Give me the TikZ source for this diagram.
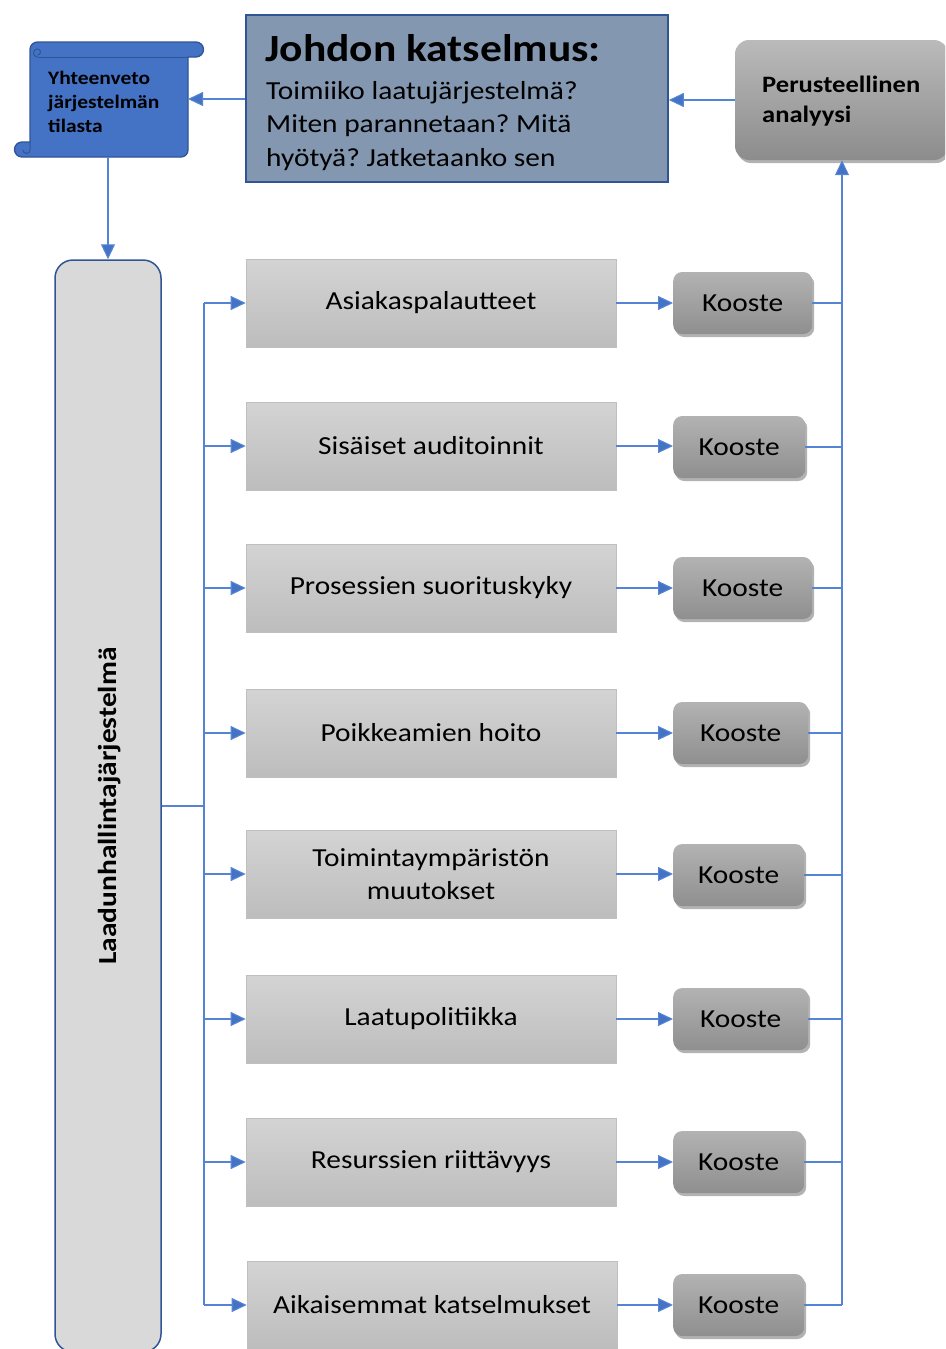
\documentclass[tikz,border=0pt]{standalone}
\usepackage{fontspec}
\setmainfont{Carlito}[FakeStretch=1.13]
\usetikzlibrary{arrows.meta,shadows}
\frenchspacing

\definecolor{link}{HTML}{5584D4}
\definecolor{tipblue}{HTML}{4472C4}
\definecolor{scrollblue}{HTML}{4472C4}
\definecolor{navy}{HTML}{2F5597}
\definecolor{slate}{HTML}{8497B0}
\definecolor{panel}{HTML}{D9D9D9}

\tikzset{
  conn/.style={draw=link, line width=1.1pt},
  arr/.style={conn, -{Triangle[length=15pt,width=14pt,fill=tipblue]}},
  topicbox/.style={rectangle, draw=black!25, line width=0.6pt,
    top color=black!17, bottom color=black!26,
    minimum width=370pt, minimum height=88pt, inner sep=0pt,
    align=center, font=\fontsize{26}{33}\selectfont},
  sumbox/.style={rectangle, rounded corners=9pt, draw=none,
    top color=black!30, bottom color=black!44,
    drop shadow={shadow xshift=2pt, shadow yshift=-3pt, opacity=0.3, fill=black},
    minimum height=62pt, inner sep=0pt, anchor=west,
    font=\fontsize{26}{30}\selectfont},
  linetext/.style={anchor=base west, inner sep=0pt},
  scrolltext/.style={linetext, font=\bfseries\fontsize{19}{22}\selectfont},
  bodytext/.style={linetext, font=\fontsize{26}{30}\selectfont},
  headtext/.style={linetext, font=\bfseries\fontsize{23.5}{28}\selectfont},
}

\begin{document}
\begin{tikzpicture}[x=1pt, y=-1pt]
\useasboundingbox (0,0) rectangle (945,1349);
\clip (0,0) rectangle (945,1349);

% summary scroll
\filldraw[fill=scrollblue, draw=navy, line width=1.3pt, line join=round]
  (37.5,42) -- (196,42) arc[start angle=-90, end angle=90, radius=7.5]
  -- (188,57) -- (188,150) arc[start angle=0, end angle=90, radius=7]
  -- (22,157) arc[start angle=90, end angle=270, radius=7.5]
  -- (30,142) -- (30,49.5) arc[start angle=180, end angle=270, radius=7.5] -- cycle;
\draw[navy, line width=1pt] (37.5,57) -- (188,57);
\draw[navy, line width=1pt] (37.5,57) arc[start angle=90, end angle=270, radius=4] arc[start angle=-90, end angle=90, radius=3];
\draw[navy, line width=1pt] (30,142) -- (30,150) arc[start angle=0, end angle=180, radius=3.5];
\node[scrolltext] (s1) at (48,84) {Yhteenveto};
\node[scrolltext] (s2) at (48,108) {järjestelmän};
\node[scrolltext] (s3) at (48,132) {tilasta};
\coordinate (scE) at (188,99);
\coordinate (scS) at (108,157);

% management review box
\node[rectangle, draw=navy, fill=slate, line width=1.6pt, minimum width=422pt, minimum height=167pt, inner sep=0pt] (jk) at (457,98.5) {};
\node[linetext, font=\bfseries\fontsize{38.5}{42}\selectfont] (j0) at (265,61) {Johdon katselmus:};
\node[bodytext] (j1) at (266,99) {Toimiiko laatujärjestelmä?};
\node[bodytext] (j2) at (266,132.5) {Miten parannetaan? Mitä};
\node[bodytext] (j3) at (266,166) {hyötyä? Jatketaanko sen};

% analysis box
\node[rectangle, rounded corners=14pt, top color=black!27, bottom color=black!45,
  drop shadow={shadow xshift=2pt, shadow yshift=-3pt, opacity=0.3, fill=black},
  minimum width=213pt, minimum height=120pt, inner sep=0pt] (pa) at (841.5,100) {};
\node[headtext] (p1) at (762,92) {Perusteellinen};
\node[headtext] (p2) at (762,122) {analyysi};

% quality system column
\node[rectangle, rounded corners=18pt, draw=navy, fill=panel, line width=1.5pt,
  minimum width=106pt, minimum height=1092pt, inner sep=0pt] (lq) at (108,806) {};
\node[rotate=90, font=\bfseries\fontsize{26}{30}\selectfont, inner sep=0pt] (lqt) at (110,806) {Laadunhallintajärjestelmä};

% review inputs
\node[topicbox] (b1) at (431,303) {Asiakaspalautteet};
\node[topicbox] (b2) at (431,446) {Sisäiset auditoinnit};
\node[topicbox] (b3) at (431,588) {Prosessien suorituskyky};
\node[topicbox] (b4) at (431,733) {Poikkeamien hoito};
\node[topicbox] (b5) at (431,874) {Toimintaympäristön\\muutokset};
\node[topicbox] (b6) at (431,1019) {Laatupolitiikka};
\node[topicbox] (b7) at (431,1162) {Resurssien riittävyys};
\node[topicbox] (b8) at (432,1305) {Aikaisemmat katselmukset};

% summaries
\node[sumbox, minimum width=139pt] (k1) at (673,303) {Kooste};
\node[sumbox, minimum width=132pt] (k2) at (673,447) {Kooste};
\node[sumbox, minimum width=139pt] (k3) at (673,588) {Kooste};
\node[sumbox, minimum width=135pt] (k4) at (673,733) {Kooste};
\node[sumbox, minimum width=131pt] (k5) at (673,875) {Kooste};
\node[sumbox, minimum width=135pt] (k6) at (673,1019) {Kooste};
\node[sumbox, minimum width=131pt] (k7) at (673,1162) {Kooste};
\node[sumbox, minimum width=131pt] (k8) at (673,1305) {Kooste};

% connectors at the top
\draw[arr] (pa.west) -- (pa.west -| jk.east);
\draw[arr] (jk.west |- scE) -- (scE);
\draw[arr] (scS) -- (lq.north);

% trunk from the quality system to the inputs
\coordinate (tj) at (204,806);
\draw[conn] (lq.east) -- (tj);
\draw[conn] (b1.west -| tj) -- (b8.west -| tj);
\foreach \i in {1,...,8} {
  \draw[arr] (b\i.west -| tj) -- (b\i.west);
  \draw[arr] (b\i.east) -- (b\i.east -| k\i.west);
}

% collector from the summaries to the analysis
\coordinate (rt) at (842,0);
\foreach \i in {1,...,8} {
  \draw[conn] (k\i.east) -- (k\i.east -| rt);
}
\draw[arr] (k8.east -| rt) -- (rt |- pa.south);
\end{tikzpicture}
\end{document}
